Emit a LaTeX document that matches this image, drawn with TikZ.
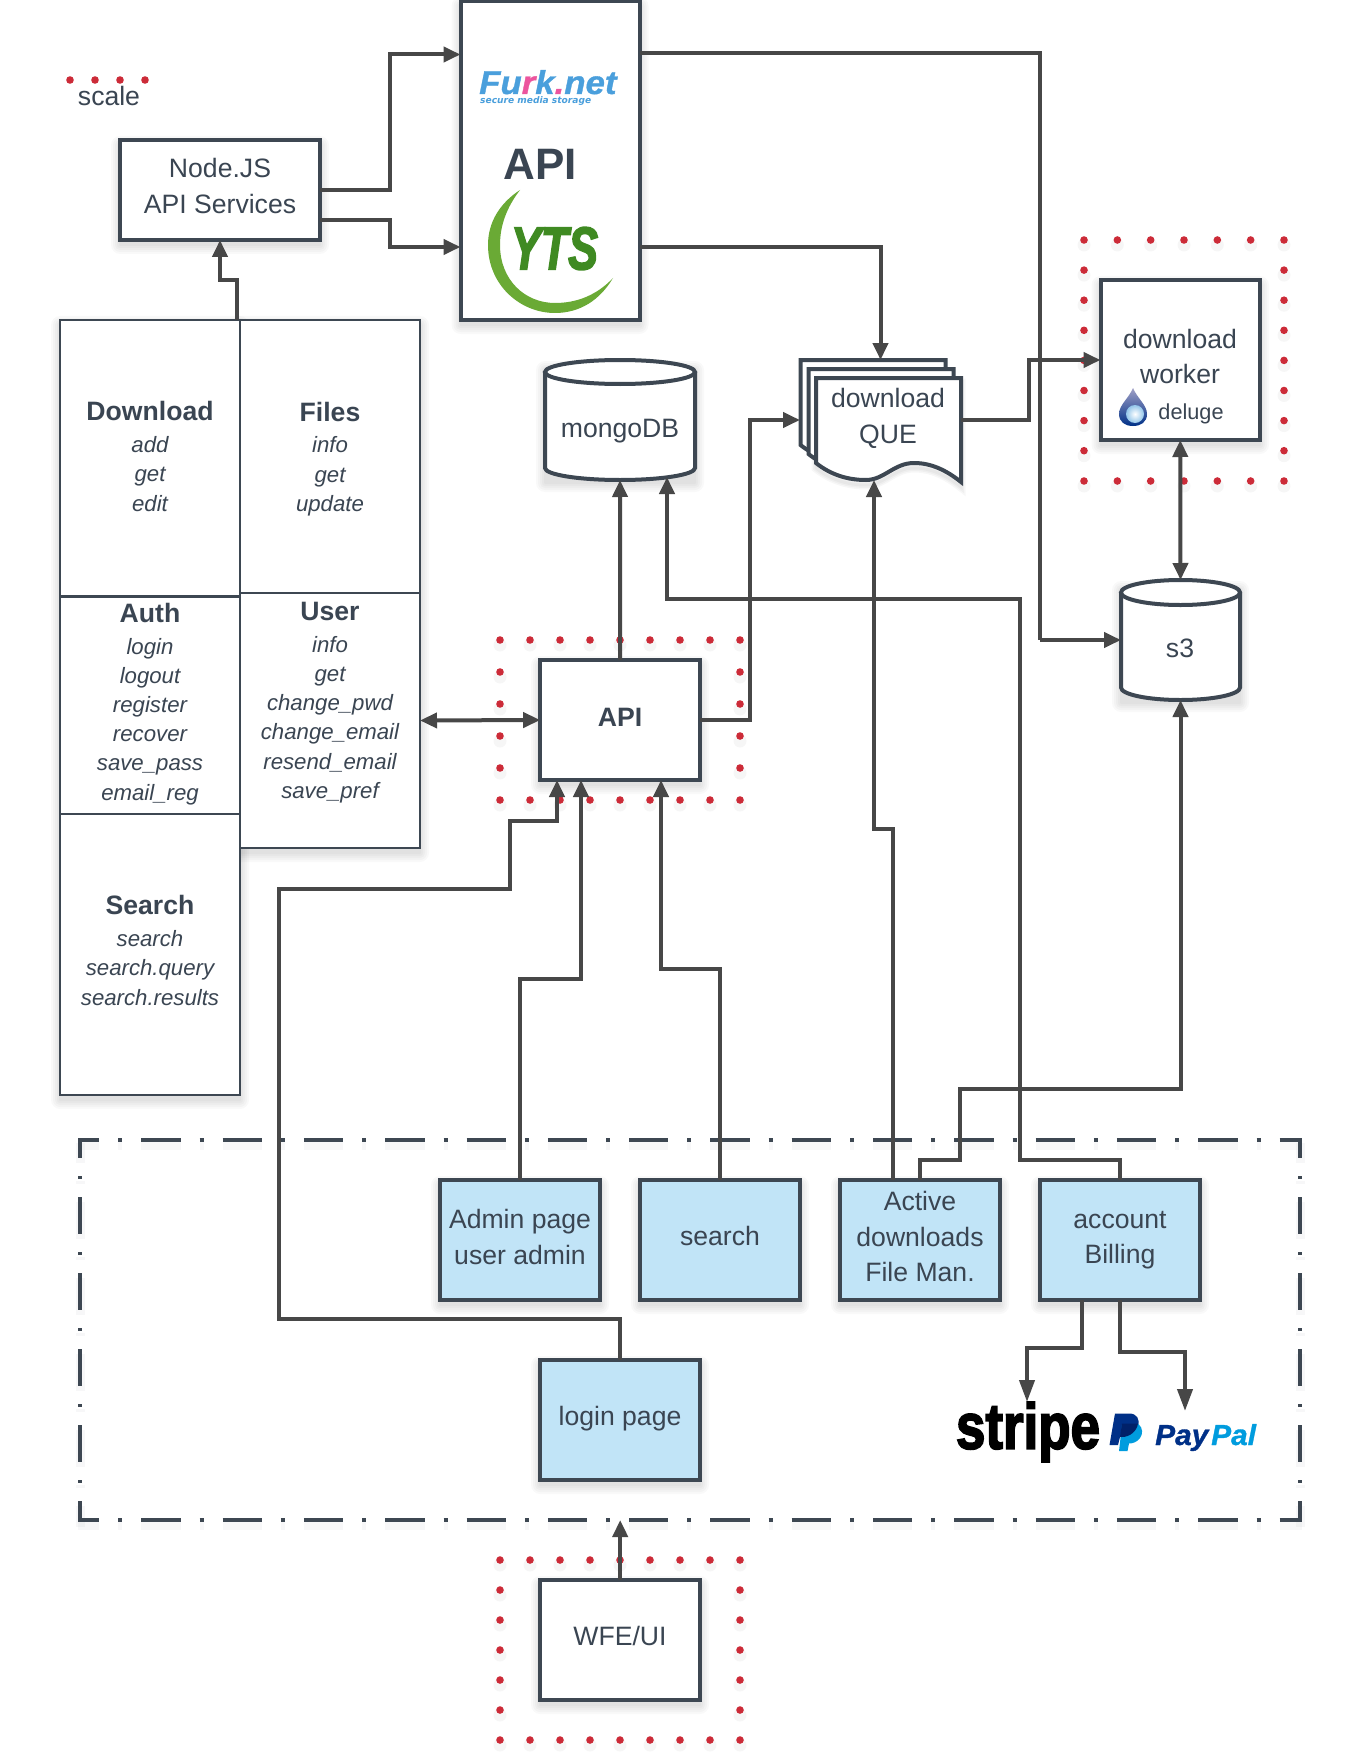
\documentclass[tikz,border=0pt]{standalone}
\usepackage{fontspec}
\setmainfont{Liberation Sans}
\newfontfamily\heavyfont{Liberation Sans}[BoldFeatures={FakeBold=3},BoldItalicFeatures={FakeBold=3}]
\newfontfamily\semifont{Liberation Sans}[BoldFeatures={FakeBold=1},BoldItalicFeatures={FakeBold=1}]
\newfontfamily\tagfont{DejaVu Sans}
\usetikzlibrary{arrows.meta,calc}
\definecolor{edgec}{HTML}{3D4752}
\definecolor{connc}{HTML}{474747}
\definecolor{textc}{HTML}{3A4552}
\definecolor{bluef}{HTML}{C1E4F7}
\definecolor{redd}{HTML}{CC2B38}
\definecolor{furkb}{HTML}{4A9FDC}
\definecolor{furkp}{HTML}{EC559E}
\definecolor{ytsl}{HTML}{6AAA35}
\definecolor{ytsd}{HTML}{3F8A22}
\definecolor{ppd}{HTML}{003087}
\definecolor{ppl}{HTML}{009CDE}
\definecolor{ppm}{HTML}{012169}
\tikzset{
  boxn/.style={draw=edgec,line width=4pt,fill=white,outer sep=0pt,inner sep=0pt,rectangle},
  bluen/.style={boxn,fill=bluef},
  celln/.style={draw=edgec,line width=2.4pt,fill=white,outer sep=0pt,inner sep=0pt,rectangle},
  anchorn/.style={outer sep=0pt,inner sep=0pt,rectangle},
  lbl/.style={text=textc,align=center,inner sep=0pt,font=\fontsize{26.6}{35.6}\selectfont},
  celllbl/.style={text=textc,align=center,inner sep=0pt,font=\fontsize{22.2}{29.2}\selectfont\itshape},
  conn/.style={draw=connc,line width=4pt,line join=miter,-{Triangle[length=17pt,width=15pt]}},
  connlong/.style={draw=connc,line width=4pt,line join=miter,-{Triangle[length=22pt,width=15pt]}},
  conndbl/.style={draw=connc,line width=4pt,{Triangle[length=17pt,width=15pt]}-{Triangle[length=17pt,width=15pt]}},
  reddot/.style={fill=redd},
  dashh/.style={draw=edgec,line width=4pt,dash pattern=on 39.3pt off 19pt on 4pt off 19pt,dash phase=18pt},
  dashv/.style={draw=edgec,line width=4pt,dash pattern=on 37pt off 18pt on 3pt off 18pt,dash phase=17pt}
}
\newcommand{\softshadow}[4]{\foreach \d in {9,7,5,3,1}{\fill[black,opacity=.022,rounded corners=\d pt] ({#1-\d},{#2+5-\d}) rectangle ({#3+\d},{#4+5+\d});}}
\newcommand{\softdot}[2]{\fill[black,opacity=.035] (#1,#2+5) circle (6.5);\fill[reddot] (#1,#2) circle (3.8);}
\newcommand{\docpage}[3]{\path[#3,shift={(#1,#2)}] (0,0) -- (145,0) -- (145,104) .. controls (130,92) and (115,85) .. (98,85) .. controls (78,85) and (68,102) .. (50,102) .. controls (32,102) and (15,97) .. (0,85) -- cycle;}
\newcommand{\cyl}[5]{% x1 x2 ytop ybottom ry
  \fill[white] (#1,#3+#5) rectangle (#2,#4-#5);
  \fill[white] ({(#1+#2)/2},#4-#5) ellipse[x radius={(#2-#1)/2},y radius=#5];
  \draw[edgec,line width=4pt] (#1,#3+#5) -- (#1,#4-#5) arc[start angle=180,end angle=360,x radius={(#2-#1)/2},y radius=-#5] -- (#2,#3+#5);
  \draw[edgec,fill=white,line width=4pt] ({(#1+#2)/2},#3+#5) ellipse[x radius={(#2-#1)/2},y radius=#5];
}
\begin{document}
\begin{tikzpicture}[x=1pt,y=-1pt]
\useasboundingbox (0,0) rectangle (1360,1760);
\fill[white] (0,0) rectangle (1360,1760);

% shadows
\softshadow{120}{140}{320}{240}
\softshadow{460.5}{1}{639.5}{320}
\softshadow{60}{320}{240}{1095}
\softshadow{240}{320}{420}{848}
\softshadow{545}{365}{695}{478}
\softshadow{1100.5}{280}{1260}{440}
\softshadow{1121}{585}{1240}{698}
\softshadow{540}{660}{700}{780}
\softshadow{440}{1180}{600}{1300}
\softshadow{640}{1180}{800}{1300}
\softshadow{840}{1180}{1000}{1300}
\softshadow{1040}{1180}{1200}{1300}
\softshadow{540}{1360}{700}{1480}
\softshadow{540}{1580}{700}{1700}

% dash-dot frame
\begin{scope}[opacity=.04]
\draw[dashh,line width=9pt] (78,1145) -- (1302,1145);
\draw[dashh,line width=9pt] (78,1525) -- (1302,1525);
\draw[dashv,line width=9pt] (80,1143) -- (80,1527);
\draw[dashv,line width=9pt] (1300,1143) -- (1300,1527);
\end{scope}
\draw[dashh] (78,1140) -- (1302,1140);
\draw[dashh] (78,1520) -- (1302,1520);
\draw[dashv] (80,1138) -- (80,1522);
\draw[dashv] (1300,1138) -- (1300,1522);
\coordinate (frameS) at (620.2,1520);

% red dots
\foreach \i in {0,1,2,3} {\fill[reddot] ({70+25*\i},80) circle (3.8);}
\foreach \i in {0,...,8} {\softdot{500+30*\i}{640}\softdot{500+30*\i}{800}\softdot{500+30*\i}{1560}\softdot{500+30*\i}{1740}}
\foreach \j in {1,...,4} {\softdot{500}{640+32*\j}\softdot{740}{640+32*\j}}
\foreach \j in {1,...,5} {\softdot{500}{1560+30*\j}\softdot{740}{1560+30*\j}}
\foreach \i in {0,...,6} {\softdot{1084+33.33*\i}{240}\softdot{1084+33.33*\i}{481}}
\foreach \j in {1,...,7} {\softdot{1084}{240+30.1*\j}\softdot{1284}{240+30.1*\j}}

% table cells
\node[celln,minimum width=180pt,minimum height=276.5pt] (cellDownload) at (150,458.25) {};
\node[celln,minimum width=180pt,minimum height=217.5pt] (cellAuth) at (150,705.25) {};
\node[celln,minimum width=180pt,minimum height=281pt] (cellSearch) at (150,954.5) {};
\node[celln,minimum width=180pt,minimum height=273pt] (cellFiles) at (330,456.5) {};
\node[celln,minimum width=180pt,minimum height=255pt] (cellUser) at (330,720.5) {};
\node[celllbl] (txtDownload) at (150,456.5) {{\upshape\bfseries\fontsize{26.6}{32}\selectfont Download}\\[2.5pt]add\\get\\edit};
\node[celllbl] (txtAuth) at (150,704) {{\upshape\bfseries\fontsize{26.6}{32}\selectfont Auth}\\[2.5pt]login\\logout\\register\\recover\\save\_pass\\email\_reg};
\node[celllbl] (txtSearch) at (150,950.5) {{\upshape\bfseries\fontsize{26.6}{32}\selectfont Search}\\[2.5pt]search\\search.query\\search.results};
\node[celllbl] (txtFiles) at (330,459) {{\upshape\bfseries\fontsize{26.6}{32}\selectfont Files}\\[2.5pt]info\\get\\update};
\node[celllbl] (txtUser) at (330,702.5) {{\upshape\bfseries\fontsize{26.6}{32}\selectfont User}\\[2.5pt]info\\get\\change\_pwd\\change\_email\\resend\_email\\save\_pref};

% boxes
\node[boxn,minimum width=200pt,minimum height=100pt] (nodejs) at (220,190) {};
\node[boxn,minimum width=179pt,minimum height=319pt] (ext) at (550,160.5) {};
\node[boxn,minimum width=160pt,minimum height=120pt] (api) at (620.2,720) {};
\node[boxn,minimum width=159.5pt,minimum height=160pt] (worker) at (1180.25,360) {};
\node[bluen,minimum width=160pt,minimum height=120pt] (admin) at (520.2,1240) {};
\node[bluen,minimum width=160pt,minimum height=120pt] (searchp) at (720.2,1240) {};
\node[bluen,minimum width=160pt,minimum height=120pt] (active) at (920.2,1240) {};
\node[bluen,minimum width=160pt,minimum height=120pt] (account) at (1120.2,1240) {};
\node[bluen,minimum width=160pt,minimum height=120pt] (login) at (620.2,1420) {};
\node[boxn,minimum width=160pt,minimum height=120pt] (wfe) at (620.2,1640) {};

% cylinders
\node[anchorn,minimum width=150pt,minimum height=120pt] (mongo) at (620,420) {};
\cyl{545}{695}{360}{480}{12}
\node[anchorn,minimum width=119pt,minimum height=120pt] (s3) at (1180.5,640) {};
\cyl{1121}{1240}{580}{700}{12.5}
\coordinate (mongoIn) at (667,477);

% document stack
\node[anchorn,minimum width=161pt,minimum height=120pt] (doc) at (880.5,420) {};
\foreach \d in {9,6,3} {\docpage{816}{383}{draw=black,draw opacity=.03,line width=\d pt}}
\docpage{800.5}{360}{draw=edgec,line width=4pt,fill=white,line join=miter}
\docpage{808.5}{369}{draw=edgec,line width=4pt,fill=white,line join=miter}
\docpage{816}{378}{draw=edgec,line width=4pt,fill=white,line join=miter}

% free ends
\coordinate (stripeIn) at (1027,1402);
\coordinate (paypalIn) at (1185,1411);

% connectors
\draw[conn] ([xshift=87]cellDownload.north) -- ++(0,-40) -| (nodejs.south);
\draw[conn] ([yshift=0]nodejs.east) -| (390,54.5) -- ([yshift=106]ext.west);
\draw[conn] ([yshift=-30]nodejs.east) -| (390,247) -- ([yshift=-86.5]ext.west);
\draw[-,draw=connc,line width=4pt,line join=miter] ([yshift=107.5]ext.east) -| (1040,640);
\draw[conn] (1040,640) -- (s3.west);
\draw[conn] ([yshift=-86.5]ext.east) -| (doc.north);
\draw[conn] (doc.east) -| (1029,360) -- (worker.west);
\draw[conndbl] (worker.south) -- (s3.north);
\draw[conn] (api.north) -- (mongo.south);
\draw[conndbl] (cellUser.east) -- (api.west);
\draw[conn] (api.east) -| (749.5,420) -- (doc.west);
\draw[conn] (login.north) |- (279,1319) |- (510,889) |- (557,821) -- ([xshift=-63.2]api.south);
\draw[conn] (admin.north) |- (581,979) -- ([xshift=-39.2]api.south);
\draw[conn] (searchp.north) |- (661,969) -- ([xshift=40.8]api.south);
\draw[conn] ([xshift=-27.2]active.north) |- (874,829) -- ([xshift=-6.5]doc.south);
\draw[conn] (active.north) |- (960,1160) |- (1180.5,1089) -- (s3.south);
\draw[conn] (account.north) |- (1020,1160) |- (667,599) -- (mongoIn);
\draw[connlong] ([xshift=-38.2]account.south) |- (1027,1348) -- (stripeIn);
\draw[connlong] (account.south) |- (1185,1352) -- (paypalIn);
\draw[conn] (wfe.north) -- (frameS);

% labels
\node[lbl] (scaleT) at (109,96) {scale};
\node[lbl] (nodejsT) at (220,186) {Node.JS\\API Services};
\node[lbl,font=\fontsize{44}{44}\selectfont\bfseries] (extT) at (540,164) {API};
\node[lbl] (mongoT) at (620,431.5) {mongoDB};
\node[lbl] (docT) at (888,418.5) {download\\QUE};
\node[lbl] (workerT) at (1180,356.5) {download\\worker};
\node[lbl,font=\fontsize{21.7}{26}\selectfont] (delugeT) at (1191,414) {deluge};
\node[lbl,font=\fontsize{26.6}{32}\selectfont\bfseries] (apiT) at (620,717) {API};
\node[lbl] (s3T) at (1180,648) {s3};
\node[lbl] (adminT) at (520,1237) {Admin page\\user admin};
\node[lbl] (searchT) at (720,1236) {search};
\node[lbl] (activeT) at (920,1236.5) {Active\\downloads\\File Man.};
\node[lbl] (accountT) at (1120,1240) {account\\Billing};
\node[lbl] (loginT) at (620,1418.5) {login page};
\node[lbl] (wfeT) at (620,1636) {WFE/UI};

% Furk.net logo
\node[anchor=base west,inner sep=0pt] (furkT) at (479,94) {\scalebox{1.055}[1]{\semifont\fontsize{33}{33}\selectfont\bfseries\itshape\textcolor{furkb}{Fu}\textcolor{furkp}{r}\textcolor{furkb}{k}\textcolor{furkp}{.}\textcolor{furkb}{net}}};
\node[anchor=base west,inner sep=0pt] (furkTag) at (480,104) {\resizebox{111pt}{!}{\tagfont\fontsize{10}{10}\selectfont\bfseries\itshape\textcolor{furkb}{secure media storage}}};

% YTS logo
\fill[ytsl] (520,190) .. controls (500,203) and (488,222) .. (488,245) .. controls (488,285) and (520,313) .. (555,313) .. controls (580,313) and (600,300) .. (613,278) .. controls (597,295) and (577,303) .. (555,303) .. controls (525,303) and (500,280) .. (500,245) .. controls (500,225) and (507,207) .. (520,190) -- cycle;
\node[inner sep=0pt] (ytsT) at (554.5,248.5) {\resizebox{87pt}{42pt}{\heavyfont\fontsize{40}{40}\selectfont\bfseries\itshape\textcolor{ytsd}{YTS}}};

% deluge drop
\shade[top color=blue!25!gray!60!white,bottom color=ppd] (1133,388) .. controls (1137,398) and (1147,405) .. (1147,414) .. controls (1147,422) and (1141,426) .. (1133,426) .. controls (1125,426) and (1119,422) .. (1119,414) .. controls (1119,405) and (1129,398) .. (1133,388) -- cycle;
\shade[inner color=white,outer color=furkb!60] (1135,414) circle (9);

% stripe and PayPal logos
\node[inner sep=0pt] (stripeT) at (1028,1432) {\resizebox*{144pt}{60pt}{\heavyfont\fontsize{40}{40}\selectfont\bfseries stripe}};
\fill[ppd] (1115,1413.5) -- (1129,1413.5) .. controls (1137,1413.5) and (1140,1419) .. (1138,1426) .. controls (1136,1434) and (1130,1437) .. (1122,1437) -- (1120,1437) -- (1118,1445) -- (1109.5,1445) -- cycle;
\fill[ppl] (1122,1425) -- (1138.5,1424) .. controls (1143,1428) and (1143,1434) .. (1140,1438) .. controls (1137,1442) and (1133,1443.5) .. (1129,1443.5) -- (1127.5,1451) -- (1119,1451) -- cycle;
\fill[ppm] (1122,1423.5) -- (1138,1423.5) .. controls (1137,1431) and (1130,1437) .. (1122,1437) -- (1120,1437) -- cycle;
\node[anchor=base west,inner sep=0pt] (payT) at (1155,1445) {\scalebox{1.03}[1]{\semifont\fontsize{29}{29}\selectfont\bfseries\itshape\textcolor{ppd}{Pay}}};
\node[anchor=base west,inner sep=0pt] (palT) at (1211,1445) {\scalebox{1.03}[1]{\semifont\fontsize{29}{29}\selectfont\bfseries\itshape\textcolor{ppl}{Pal}}};
\end{tikzpicture}
\end{document}
